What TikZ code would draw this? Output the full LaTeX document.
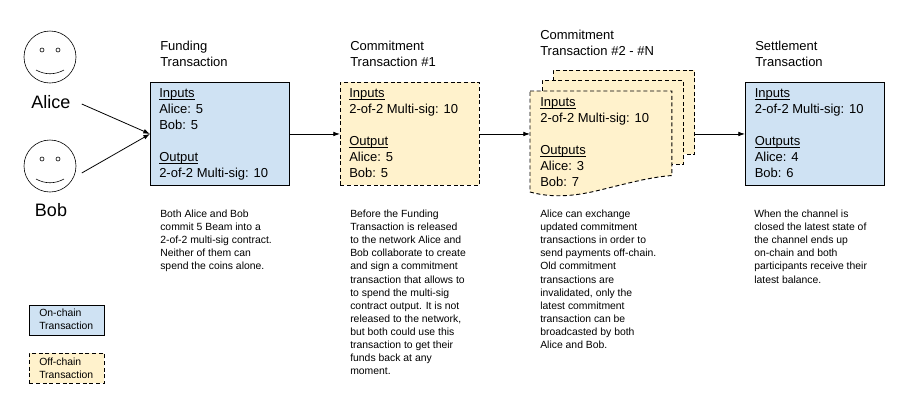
\documentclass[tikz,border=0pt]{standalone}
\usepackage{fontspec}
\setmainfont{Liberation Sans}
\usetikzlibrary{arrows.meta}
\definecolor{onblue}{HTML}{CFE2F3}
\definecolor{offyellow}{HTML}{FFF2CC}
\tikzset{
    onchain/.style={draw=black,fill=onblue,line width=0.7pt,anchor=north west,inner sep=0pt},
    offchain/.style={draw=black,fill=offyellow,line width=0.7pt,dash pattern=on 3pt off 2pt,anchor=north west,inner sep=0pt},
    boxtext/.style={anchor=north west,align=left,inner sep=0pt,font=\fontsize{9.75}{12}\selectfont},
    titletext/.style={anchor=north west,align=left,inner sep=0pt,font=\fontsize{9.75}{12}\selectfont},
    desctext/.style={anchor=north west,align=left,inner sep=0pt,font=\fontsize{7.8}{9.78}\selectfont},
    nametext/.style={anchor=center,inner sep=0pt,font=\fontsize{13.5}{15}\selectfont},
    legendtext/.style={anchor=north west,align=left,inner sep=0pt,font=\fontsize{7.8}{9.8}\selectfont},
    facering/.style={draw=black,circle,line width=0.45pt,minimum size=39pt,inner sep=0pt},
    link/.style={draw=black,line width=0.6pt,-{Latex[length=5pt,width=3.5pt]}},
}
\newcommand{\smiley}[1]{
    \draw[line width=0.45pt] (#1) ++(-8,-7) circle (1.5pt);
    \draw[line width=0.45pt] (#1) ++(8,-7) circle (1.5pt);
    \draw[line width=0.45pt] (#1) ++(-14,13) .. controls +(9,5) and +(-9,5) .. ++(28,0);
}
\newcommand{\ulined}[1]{\setbox0\hbox{#1}\rlap{\rule[-1.3pt]{\wd0}{0.5pt}}\box0}
\begin{document}
\begin{tikzpicture}[x=0.75pt,y=-0.75pt]
    \useasboundingbox (0,0) rectangle (913,412);
    % people
    \node[facering] (alice) at (50,57) {};
    \smiley{alice}
    \node[nametext] (alicename) at (51,102) {Alice};
    \node[facering] (bob) at (50,166) {};
    \smiley{bob}
    \node[nametext] (bobname) at (51,210) {Bob};
    % boxes
    \node[onchain,minimum width=104.25pt,minimum height=77.25pt] (funding) at (150,82) {};
    \node[offchain,minimum width=104.25pt,minimum height=77.25pt] (commitone) at (340,82) {};
    \node[offchain,minimum width=106pt,minimum height=63pt] (backsheet) at (553,70) {};
    \node[offchain,minimum width=106pt,minimum height=63pt] (midsheet) at (542,80) {};
    \coordinate (frontnw) at (530,91);
    \node[anchor=north west,inner sep=0pt,minimum width=106pt,minimum height=63pt] (front) at (frontnw) {};
    \draw[offchain] (front.north west) -- (front.north east) -- (front.south east)
        .. controls (650,177) and (625,184) .. (600,190)
        .. controls (580,195) and (555,199) .. (530,192) -- cycle;
    \node[onchain,minimum width=104.25pt,minimum height=77.25pt] (settlement) at (745,82) {};
    % arrows
    \path (alicename.east) ++(11,2) coordinate (alicefoot);
    \draw[link] (alicefoot) -- (funding.west);
    \path (alicename.east |- bob.center) ++(11,7) coordinate (bobfoot);
    \draw[link] (bobfoot) -- (funding.west);
    \draw[link] (funding.east) -- (commitone.west);
    \draw[link] (commitone.east) -- (commitone.east -| front.west);
    \draw[link] (backsheet.east |- settlement.west) -- (settlement.west);
    % titles
    \node[titletext] (fundingtitle) at (160,41) {Funding\\Transaction};
    \node[titletext] (commitonetitle) at (350,41) {Commitment\\Transaction \#1};
    \node[titletext] (commitntitle) at (540,29.5) {Commitment\\Transaction \#2 - \#N};
    \node[titletext] (settlementtitle) at (755,41) {Settlement\\Transaction};
    % box contents
    \node[boxtext] (fundingtext) at (159,88.5) {\ulined{Inputs}\\Alice: 5\\Bob: 5\\[12pt]\ulined{Output}\\2-of-2 Multi-sig: 10};
    \node[boxtext] (commitonetext) at (349,88.5) {\ulined{Inputs}\\2-of-2 Multi-sig: 10\\[12pt]\ulined{Output}\\Alice: 5\\Bob: 5};
    \node[boxtext] (commitntext) at (540,97.5) {\ulined{Inputs}\\2-of-2 Multi-sig: 10\\[12pt]\ulined{Outputs}\\Alice: 3\\Bob: 7};
    \node[boxtext] (settlementtext) at (754.5,88.5) {\ulined{Inputs}\\2-of-2 Multi-sig: 10\\[12pt]\ulined{Outputs}\\Alice: 4\\Bob: 6};
    % descriptions
    \node[desctext] (fundingdesc) at (160,210) {Both Alice and Bob\\commit 5 Beam into a\\2-of-2 multi-sig contract.\\Neither of them can\\spend the coins alone.};
    \node[desctext] (commitonedesc) at (350,210) {Before the Funding\\Transaction is released\\to the network Alice and\\Bob collaborate to create\\and sign a commitment\\transaction that allows to\\to spend the multi-sig\\contract output. It is not\\released to the network,\\but both could use this\\transaction to get their\\funds back at any\\moment.};
    \node[desctext] (commitndesc) at (540,210) {Alice can exchange\\updated commitment\\transactions in order to\\send payments off-chain.\\Old commitment\\transactions are\\invalidated, only the\\latest commitment\\transaction can be\\broadcasted by both\\Alice and Bob.};
    \node[desctext] (settlementdesc) at (754,210) {When the channel is\\closed the latest state of\\the channel ends up\\on-chain and both\\participants receive their\\latest balance.};
    % legend
    \node[onchain,minimum width=56.25pt,minimum height=22.5pt] (onlegend) at (29,305) {};
    \node[legendtext] (onlegendtext) at (39,309) {On-chain\\Transaction};
    \node[offchain,minimum width=56.25pt,minimum height=22.5pt] (offlegend) at (29,353) {};
    \node[legendtext] (offlegendtext) at (39,357.5) {Off-chain\\Transaction};
\end{tikzpicture}
\end{document}
